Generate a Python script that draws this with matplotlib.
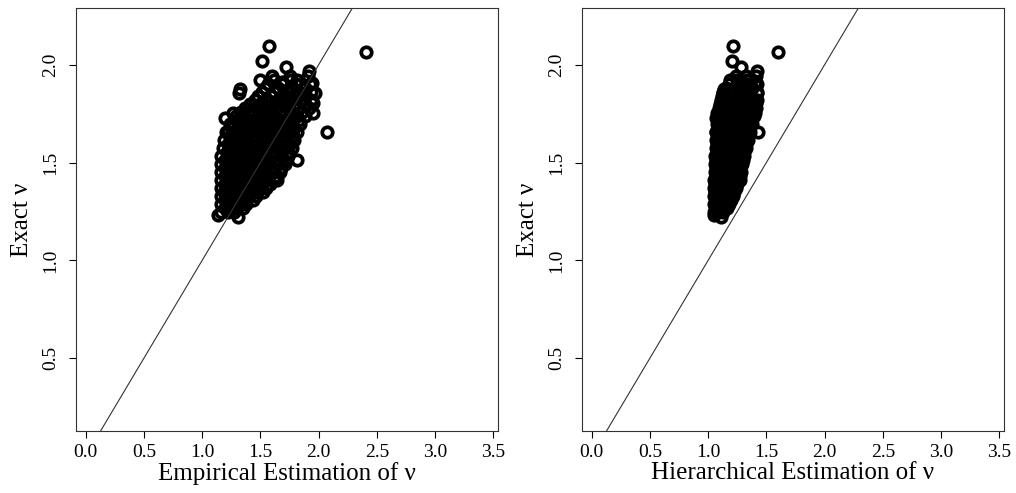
import numpy as np
import matplotlib
import matplotlib.pyplot as plt

matplotlib.use('agg')

plt.rcParams['font.family'] = ['Liberation Serif', 'DejaVu Serif']

# Exact nu (shared by both panels) and the two estimates
y_exact = (
    [1.248]*3 + [1.289]*5 + [1.330]*6 + [1.371]*8 + [1.412]*8 + [1.453]*9 +
    [1.494]*9 + [1.535]*10 + [1.576]*10 + [1.617]*10 + [1.657]*10 + [1.698]*10 +
    [1.739]*10 + [1.780]*7 + [1.821]*6 + [1.862]*5 + [1.903]*4 + [1.944]*3 +
    [2.097, 2.020, 1.990, 1.969, 1.923, 1.857, 1.877, 1.729, 2.066, 1.657,
     1.755, 1.657, 1.755, 1.857, 1.806, 1.755, 1.514, 1.412, 1.913, 1.923,
     1.908, 1.811, 1.872, 1.233, 1.223]
)

x_emp = [
    1.162, 1.222, 1.274,
    1.162, 1.222, 1.274, 1.326, 1.378,
    1.162, 1.222, 1.283, 1.343, 1.403, 1.464,
    1.162, 1.218, 1.274, 1.330, 1.385, 1.441, 1.497, 1.549,
    1.162, 1.227, 1.291, 1.356, 1.420, 1.484, 1.549, 1.618,
    1.162, 1.226, 1.290, 1.352, 1.416, 1.480, 1.543, 1.606, 1.669,
    1.162, 1.231, 1.300, 1.369, 1.437, 1.506, 1.575, 1.643, 1.712,
    1.162, 1.226, 1.290, 1.354, 1.418, 1.482, 1.546, 1.610, 1.674, 1.738,
    1.180, 1.246, 1.311, 1.377, 1.443, 1.509, 1.575, 1.641, 1.706, 1.772,
    1.188, 1.255, 1.322, 1.388, 1.455, 1.522, 1.589, 1.655, 1.722, 1.790,
    1.205, 1.273, 1.341, 1.409, 1.477, 1.544, 1.612, 1.680, 1.747, 1.815,
    1.240, 1.307, 1.374, 1.440, 1.507, 1.574, 1.641, 1.707, 1.774, 1.841,
    1.291, 1.357, 1.423, 1.489, 1.555, 1.620, 1.686, 1.752, 1.818, 1.884,
    1.369, 1.460, 1.552, 1.643, 1.735, 1.827, 1.919,
    1.454, 1.551, 1.647, 1.743, 1.839, 1.936,
    1.515, 1.620, 1.725, 1.831, 1.936,
    1.566, 1.686, 1.807, 1.927,
    1.601, 1.755, 1.910,
    1.570, 1.515, 1.720, 1.918, 1.497, 1.317, 1.326, 1.197, 2.408, 2.073,
    1.266, 1.223, 1.352, 1.970, 1.953, 1.953, 1.815, 1.643, 1.686, 1.815,
    1.944, 1.643, 1.729, 1.137, 1.309,
]

x_hier = [
    1.048, 1.082, 1.125,
    1.048, 1.082, 1.117, 1.151, 1.177,
    1.048, 1.082, 1.117, 1.151, 1.186, 1.211,
    1.048, 1.074, 1.100, 1.125, 1.160, 1.186, 1.211, 1.237,
    1.048, 1.078, 1.108, 1.138, 1.168, 1.203, 1.233, 1.263,
    1.057, 1.085, 1.113, 1.141, 1.168, 1.197, 1.224, 1.252, 1.280,
    1.057, 1.086, 1.115, 1.144, 1.173, 1.202, 1.231, 1.259, 1.289,
    1.057, 1.084, 1.112, 1.140, 1.168, 1.195, 1.223, 1.251, 1.278, 1.306,
    1.065, 1.094, 1.123, 1.151, 1.180, 1.209, 1.237, 1.266, 1.295, 1.323,
    1.065, 1.096, 1.126, 1.157, 1.187, 1.218, 1.248, 1.279, 1.309, 1.340,
    1.065, 1.098, 1.131, 1.163, 1.195, 1.228, 1.261, 1.293, 1.325, 1.357,
    1.074, 1.107, 1.141, 1.174, 1.208, 1.241, 1.274, 1.308, 1.341, 1.375,
    1.082, 1.117, 1.151, 1.186, 1.220, 1.254, 1.289, 1.323, 1.357, 1.392,
    1.091, 1.144, 1.197, 1.250, 1.303, 1.356, 1.409,
    1.108, 1.170, 1.232, 1.294, 1.356, 1.418,
    1.125, 1.198, 1.271, 1.344, 1.418,
    1.177, 1.257, 1.337, 1.418,
    1.237, 1.323, 1.409,
    1.211, 1.203, 1.280, 1.418, 1.186, 1.125, 1.140, 1.065, 1.598, 1.426,
    1.074, 1.065, 1.100, 1.418, 1.409, 1.400, 1.300, 1.270, 1.270, 1.350,
    1.400, 1.250, 1.300, 1.050, 1.110,
]

# points lying between the rows above
y_mid = (
    [1.269]*4 + [1.310]*5 + [1.351]*7 + [1.392]*7 + [1.433]*8 + [1.473]*8 +
    [1.514]*9 + [1.555]*9 + [1.596]*9 + [1.637]*9 + [1.678]*9 + [1.719]*9 +
    [1.760]*7 + [1.801]*6 + [1.842]*4 + [1.882]*4 + [1.923]*2
)

x_emp_mid = [
    1.192, 1.248, 1.300, 1.350,
    1.192, 1.252, 1.313, 1.373, 1.433,
    1.190, 1.246, 1.302, 1.358, 1.413, 1.469, 1.523,
    1.194, 1.258, 1.323, 1.388, 1.452, 1.516, 1.584,
    1.194, 1.258, 1.321, 1.384, 1.448, 1.511, 1.575, 1.640,
    1.196, 1.265, 1.334, 1.403, 1.471, 1.540, 1.609, 1.678,
    1.194, 1.258, 1.322, 1.386, 1.450, 1.514, 1.578, 1.642, 1.706,
    1.213, 1.278, 1.344, 1.410, 1.476, 1.542, 1.608, 1.674, 1.740,
    1.221, 1.288, 1.355, 1.421, 1.488, 1.555, 1.622, 1.688, 1.755,
    1.239, 1.307, 1.375, 1.443, 1.511, 1.578, 1.646, 1.714, 1.781,
    1.256, 1.323, 1.390, 1.457, 1.524, 1.591, 1.658, 1.724, 1.791,
    1.299, 1.365, 1.432, 1.498, 1.564, 1.630, 1.697, 1.763, 1.829,
    1.330, 1.410, 1.500, 1.590, 1.680, 1.770, 1.860,
    1.410, 1.500, 1.600, 1.690, 1.790, 1.880,
    1.480, 1.590, 1.690, 1.790,
    1.540, 1.650, 1.770, 1.880,
    1.620, 1.760,
]

x_hier_mid = [
    1.065, 1.100, 1.135, 1.165,
    1.065, 1.100, 1.134, 1.168, 1.198,
    1.061, 1.087, 1.113, 1.140, 1.170, 1.198, 1.224,
    1.063, 1.093, 1.123, 1.153, 1.185, 1.218, 1.248,
    1.066, 1.096, 1.125, 1.155, 1.183, 1.212, 1.240, 1.270,
    1.071, 1.100, 1.129, 1.158, 1.187, 1.216, 1.245, 1.274,
    1.070, 1.098, 1.126, 1.154, 1.181, 1.209, 1.237, 1.265, 1.292,
    1.079, 1.108, 1.137, 1.165, 1.194, 1.223, 1.251, 1.280, 1.309,
    1.080, 1.111, 1.141, 1.172, 1.202, 1.233, 1.263, 1.294, 1.325,
    1.081, 1.114, 1.147, 1.179, 1.211, 1.244, 1.277, 1.309, 1.341,
    1.086, 1.119, 1.152, 1.185, 1.218, 1.251, 1.284, 1.317, 1.349,
    1.091, 1.124, 1.158, 1.191, 1.225, 1.258, 1.291, 1.325, 1.358,
    1.100, 1.140, 1.180, 1.230, 1.280, 1.330, 1.380,
    1.100, 1.160, 1.220, 1.280, 1.340, 1.400,
    1.120, 1.190, 1.260, 1.330,
    1.150, 1.230, 1.300, 1.380,
    1.250, 1.330,
]

xticks = [0.0, 0.5, 1.0, 1.5, 2.0, 2.5, 3.0, 3.5]
yticks = [0.5, 1.0, 1.5, 2.0]

fig = plt.figure(figsize=(10.16, 4.93), dpi=100)
panels = [(x_emp + x_emp_mid, "Empirical Estimation of \u03bd", 0.0748),
          (x_hier + x_hier_mid, "Hierarchical Estimation of \u03bd", 0.5728)]
ys = y_exact + y_mid

for xs, xlab, left in panels:
    ax = fig.add_axes([left, 0.1258, 0.4154, 0.858])
    ax.plot(xs, ys, 'o', mfc='none', mec='black', ms=7.5, mew=2.7,
            linestyle='none')
    ax.axline((0, 0), slope=1, color='#333333', lw=0.8)
    ax.set_xlim(-0.083, 3.54)
    ax.set_ylim(0.128, 2.29)
    ax.set_xticks(xticks)
    ax.set_xticklabels([f"{v:.1f}" for v in xticks])
    ax.set_yticks(yticks)
    ax.set_yticklabels([f"{v:.1f}" for v in yticks], rotation=90, va='center')
    ax.tick_params(direction='out', length=5, width=0.8, labelsize=14)
    ax.tick_params(axis='x', pad=4.5)
    ax.tick_params(axis='y', pad=7)
    for s in ax.spines.values():
        s.set_linewidth(0.8)
        s.set_color('#333333')
    ax.set_xlabel(xlab, fontsize=18)
    ax.set_ylabel("Exact \u03bd", fontsize=18)
    ax.xaxis.set_label_coords(0.5, -0.073)
    ax.yaxis.set_label_coords(-0.101, 0.5)

plt.savefig("out.png", dpi=100)
plt.close()
